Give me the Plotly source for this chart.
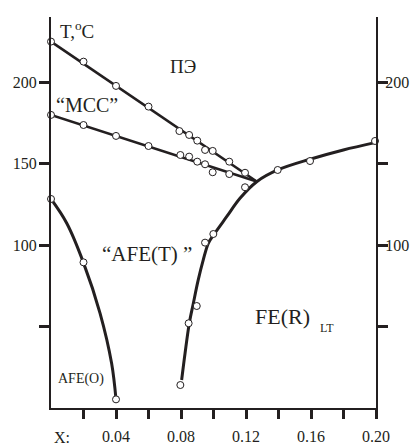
import plotly.graph_objects as go

# ---- data ----
# "ПЭ" / "МСС" upper boundary (markers)
upper_x = [0.0, 0.02, 0.04, 0.06, 0.079, 0.085, 0.09, 0.0948, 0.0995, 0.1097, 0.1194]
upper_t = [224.9, 212.6, 197.7, 185.0, 170.0, 167.6, 164.1, 158.4, 157.8, 151.2, 144.4]
upper_line_x = [0.0, 0.1266]
upper_line_t = [224.9, 139.0]

# "МСС" / "AFE(T)" lower boundary (markers)
lower_x = [0.0, 0.02, 0.04, 0.06, 0.0796, 0.085, 0.09, 0.0948, 0.0995, 0.1097, 0.1194]
lower_t = [179.9, 173.7, 167.0, 160.8, 155.3, 154.3, 151.2, 149.6, 144.7, 143.6, 135.5]
lower_line_x = [0.0, 0.1266]
lower_line_t = [179.9, 139.0]

# FE(R) boundary
fe_x = [0.0796, 0.0847, 0.0897, 0.0948, 0.0999, 0.1395, 0.1594, 0.1994]
fe_t = [14.1, 52.0, 62.6, 101.5, 106.8, 146.1, 151.6, 163.9]
fe_curve_x = [0.0804, 0.0825, 0.0851, 0.0876, 0.0906, 0.0937, 0.0968, 0.0999,
              0.1081, 0.1163, 0.1266, 0.1395, 0.1594, 0.1799, 0.1994]
fe_curve_t = [17.2, 33.6, 52.0, 64.3, 78.6, 90.9, 101.1, 106.0,
              117.4, 128.7, 138.9, 146.1, 152.7, 158.4, 162.9]

# AFE(O) boundary
afe_x = [0.0, 0.02, 0.04]
afe_t = [128.3, 89.4, 5.3]
afe_curve_x = [0.0, 0.0097, 0.0199, 0.0302, 0.0373, 0.04]
afe_curve_t = [128.3, 113.4, 89.4, 58.1, 27.4, 5.3]

# axes
x_tickvals = [0.02, 0.04, 0.06, 0.08, 0.10, 0.12, 0.14, 0.16, 0.18, 0.20]
x_ticktext = ["", "0.04", "", "0.08", "", "0.12", "", "0.16", "", "0.20"]
y_tickvals = [50, 100, 150, 200]
y_ticktext_left = ["", "100", "150", "200"]
y_ticktext_right = ["", "100", "", "200"]

# labels (text, x, T, size, anchor)
labels = [
    ("T,<sup>o</sup>C", 0.0043, 232.0, 19, "left"),
    ("ПЭ", 0.0812, 209.9, 19, "center"),
    ("“МСС”", 0.0222, 186.0, 20, "center"),
    ("“AFE(T) ”", 0.0591, 94.5, 21, "center"),
    ("AFE(O)", 0.0185, 17.8, 14, "center"),
    ("FE(R)", 0.1422, 55.9, 22, "center"),
    ("LT", 0.1698, 49.1, 12, "center"),
]
x_axis_label = ("X:", 0.0006, -18.4, 16)
T_MAX = 240

INK = "#231f20"
FONT = "Liberation Serif"

fig = go.Figure()

def curve(x, y, w=3, yaxis="y"):
    fig.add_trace(go.Scatter(x=x, y=y, mode="lines", yaxis=yaxis,
                             line=dict(color=INK, width=w, shape="spline", smoothing=1.0),
                             hoverinfo="skip", showlegend=False))

def dots(x, y, yaxis="y"):
    fig.add_trace(go.Scatter(x=x, y=y, mode="markers", yaxis=yaxis,
                             marker=dict(symbol="circle", size=7, color="white",
                                         line=dict(color=INK, width=1)),
                             hoverinfo="skip", showlegend=False, cliponaxis=False))

curve(upper_line_x, upper_line_t, 2.6)
curve(lower_line_x, lower_line_t, 2.6)
curve(fe_curve_x, fe_curve_t, 3)
curve(afe_curve_x, afe_curve_t, 3)
dots(upper_x, upper_t)
dots(lower_x, lower_t)
dots(afe_x, afe_t)
dots(fe_x, fe_t, yaxis="y2")

for text, x, t, size, anchor in labels:
    fig.add_annotation(x=x, y=t, xref="x", yref="y", text=text, showarrow=False,
                       xanchor=anchor, yanchor="middle",
                       font=dict(family=FONT, size=size, color=INK))

txt, xl, tl, sz = x_axis_label
fig.add_annotation(x=xl, y=tl / T_MAX, xref="x", yref="paper", text=txt,
                   showarrow=False, xanchor="left", yanchor="middle",
                   font=dict(family=FONT, size=sz, color=INK))

axis_common = dict(showgrid=False, zeroline=False, showline=True, linecolor=INK,
                   linewidth=2, ticks="outside", tickcolor=INK, tickwidth=3,
                   tickfont=dict(family=FONT, size=16, color=INK), fixedrange=True,
                   automargin=False)

fig.update_layout(
    width=414, height=445,
    margin=dict(l=51, r=38, t=17, b=37),
    paper_bgcolor="white", plot_bgcolor="white",
    xaxis=dict(range=[0, 0.2], tickvals=x_tickvals, ticktext=x_ticktext,
               ticklen=9, ticklabelstandoff=4, **axis_common),
    yaxis=dict(range=[0, T_MAX], tickvals=y_tickvals, ticktext=y_ticktext_left,
               ticklen=10, side="left", ticklabelstandoff=-1, **axis_common),
    yaxis2=dict(range=[0, T_MAX], tickvals=y_tickvals, ticktext=y_ticktext_right,
                ticklen=10, side="right", overlaying="y", ticklabelstandoff=-6,
                **axis_common),
    showlegend=False,
)

fig.write_html("out.html")
